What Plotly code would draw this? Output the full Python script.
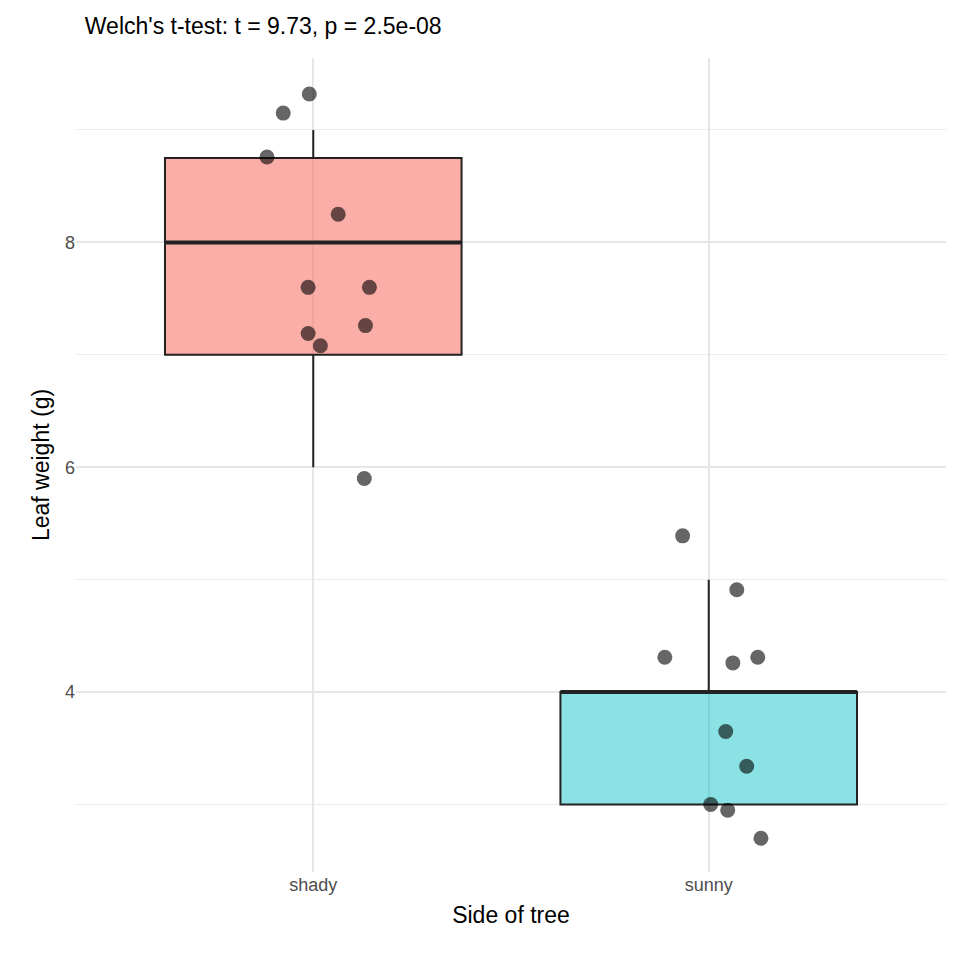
import plotly.graph_objects as go

groups = ["shady", "sunny"]
q1 = [7.0, 3.0]
med = [8.0, 4.0]
q3 = [8.75, 4.0]
lo = [6.0, 3.0]
hi = [9.0, 5.0]
fills = ["rgba(248,118,109,0.6)", "rgba(0,191,196,0.46)"]

shady_y = [9.32, 9.15, 8.76, 8.25, 7.6, 7.6, 7.26, 7.19, 7.08, 5.9]
shady_jit = [-0.01, -0.076, -0.117, 0.063, -0.013, 0.142, 0.132, -0.013, 0.018, 0.129]
sunny_y = [5.39, 4.91, 4.31, 4.26, 4.31, 3.65, 3.34, 3.0, 2.95, 2.70]
sunny_jit = [-0.066, 0.071, -0.111, 0.061, 0.124, 0.043, 0.096, 0.005, 0.048, 0.132]

fig = go.Figure()
for i, g in enumerate(groups):
    fig.add_trace(go.Box(x=[i + 1], q1=[q1[i]], median=[med[i]], q3=[q3[i]],
                         lowerfence=[lo[i]], upperfence=[hi[i]], width=0.75,
                         fillcolor=fills[i], line=dict(color="#222222", width=2),
                         whiskerwidth=0, boxpoints=False, showlegend=False))
    fig.add_trace(go.Scatter(x=[i + 1 - 0.375, i + 1 + 0.375], y=[med[i], med[i]], mode="lines",
                             line=dict(color="#222222", width=4), showlegend=False))
for i, (ys, js) in enumerate([(shady_y, shady_jit), (sunny_y, sunny_jit)]):
    fig.add_trace(go.Scatter(x=[i + 1 + j for j in js], y=ys, mode="markers",
                             marker=dict(size=15, color="rgba(0,0,0,0.6)", line=dict(width=0)),
                             showlegend=False))

fig.update_layout(
    width=960, height=960, plot_bgcolor="white", paper_bgcolor="white",
    margin=dict(l=68, r=22, t=50, b=96),
    font=dict(family="Liberation Sans, Arial", color="black"),
    title=dict(text="Welch's t-test: t = 9.73, p = 2.5e-08", x=0.08, xanchor="left",
               y=0.99, yanchor="top", font=dict(size=23)),
    xaxis=dict(range=[0.4, 2.6], tickvals=[1, 2], ticktext=groups, showgrid=True,
               gridcolor="#e6e6e6", gridwidth=2, zeroline=False, ticks="",
               tickfont=dict(size=18, color="#4d4d4d"),
               title=dict(text="Side of tree", font=dict(size=23), standoff=12)),
    yaxis=dict(range=[2.4, 9.64], tickvals=[4, 6, 8], showgrid=True, gridcolor="#e6e6e6",
               gridwidth=2, zeroline=False, ticks="",
               minor=dict(tickvals=[3, 5, 7, 9], showgrid=True, gridcolor="#ececec", gridwidth=1),
               tickfont=dict(size=18, color="#4d4d4d"),
               title=dict(text="Leaf weight (g)", font=dict(size=23), standoff=8)),
)
fig.write_html("out.html")
